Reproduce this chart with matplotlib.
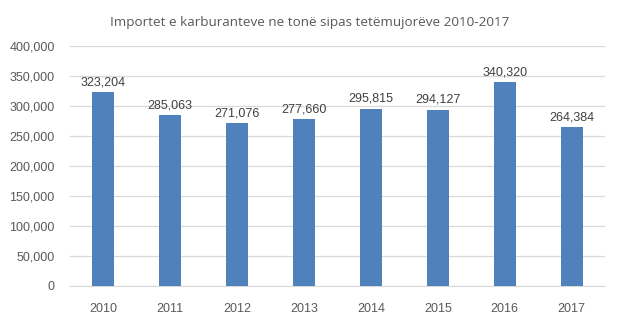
import numpy as np
import matplotlib.pyplot as plt
from matplotlib.ticker import FuncFormatter

years = ['2010', '2011', '2012', '2013', '2014', '2015', '2016', '2017']
imports = [323204, 285063, 271076, 277660, 295815, 294127, 340320, 264384]

fig = plt.figure(figsize=(6.2, 3.3), dpi=100)
ax = fig.add_axes([70 / 620, 44 / 330, 535 / 620, 240 / 330])

x = np.arange(len(years))
ax.bar(x, imports, width=0.33, color='#4F81BD', zorder=3)

for xi, v in zip(x, imports):
    ax.text(xi, v + 6000, f'{v:,}', ha='center', va='bottom',
            fontsize=9, color='#404040', family='Liberation Sans')

ax.set_xlim(-0.5, len(years) - 0.5)
ax.set_ylim(0, 400000)
ax.set_yticks(np.arange(0, 400001, 50000))
ax.yaxis.set_major_formatter(FuncFormatter(lambda v, p: f'{int(v):,}'))
ax.set_xticks(x)
ax.set_xticklabels(years)

ax.grid(axis='y', color='#D9D9D9', lw=0.9, zorder=0)
for s in ['top', 'right', 'left']:
    ax.spines[s].set_visible(False)
ax.spines['bottom'].set_color('#D9D9D9')
ax.tick_params(axis='both', length=0, labelsize=9, labelcolor='#595959')
ax.tick_params(axis='x', pad=12)
ax.tick_params(axis='y', pad=11)
for lab in ax.get_xticklabels() + ax.get_yticklabels():
    lab.set_family('Liberation Sans')

fig.text(0.5, 0.932, 'Importet e karburanteve ne tonë sipas tetëmujorëve 2010-2017',
         ha='center', va='center', fontsize=9.7, color='#595959', family='Open Sans')

fig.savefig('out.png', dpi=100, facecolor='white')
